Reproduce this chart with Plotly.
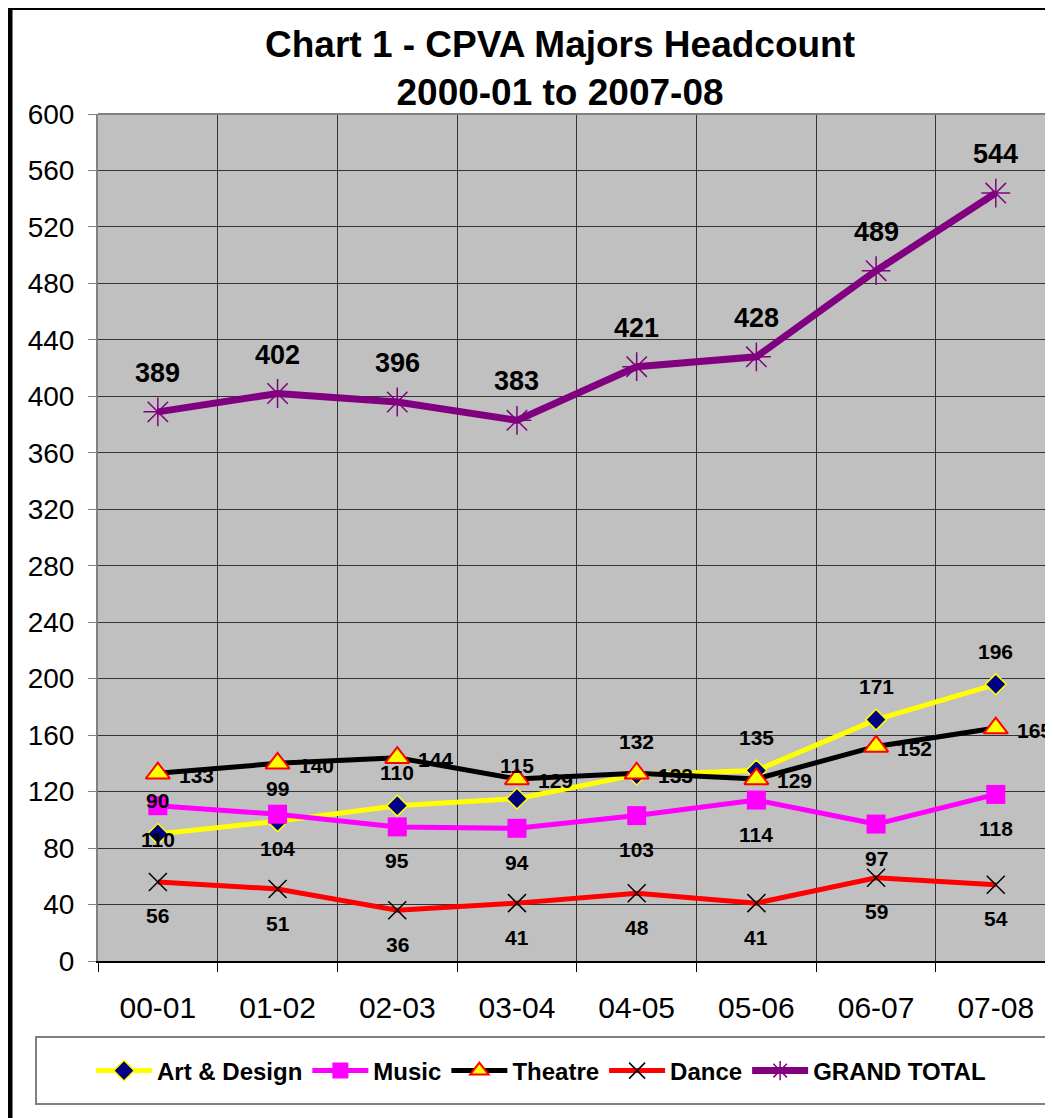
import plotly.graph_objects as go

categories = ["00-01", "01-02", "02-03", "03-04", "04-05", "05-06", "06-07", "07-08"]
art_design = [90, 99, 110, 115, 132, 135, 171, 196]
music = [110, 104, 95, 94, 103, 114, 97, 118]
theatre = [133, 140, 144, 129, 133, 129, 152, 165]
dance = [56, 51, 36, 41, 48, 41, 59, 54]
grand_total = [389, 402, 396, 383, 421, 428, 489, 544]
y_ticks = list(range(0, 601, 40))

FONT = "Liberation Sans, Arial, sans-serif"
xs = list(range(len(categories)))

W, H = 1045, 1110
L, T, B = 90, 106, 157
PW, PH = W - L, H - T - B  # plot area size in px


def px_x(fx):
    return (fx - L) / PW


def px_y(fy):
    return 1 - (fy - T) / PH


fig = go.Figure()

fig.add_trace(go.Scatter(
    x=xs, y=art_design, name="Art & Design", mode="lines+markers",
    line=dict(color="#FFFF00", width=5),
    marker=dict(symbol="diamond", size=16, color="#000080", line=dict(color="#FFFF00", width=1.5)),
))
fig.add_trace(go.Scatter(
    x=xs, y=music, name="Music", mode="lines+markers",
    line=dict(color="#FF00FF", width=5),
    marker=dict(symbol="square", size=19, color="#FF00FF"),
))
fig.add_trace(go.Scatter(
    x=xs, y=theatre, name="Theatre", mode="lines+markers",
    line=dict(color="#000000", width=5),
    marker=dict(symbol="triangle-up", size=21, color="#FFFF00", line=dict(color="#FF0000", width=2)),
))
fig.add_trace(go.Scatter(
    x=xs, y=dance, name="Dance", mode="lines+markers",
    line=dict(color="#FF0000", width=5),
    marker=dict(symbol="x-thin-open", size=18, color="#000000", line=dict(color="#000000", width=1.5)),
))
fig.add_trace(go.Scatter(
    x=xs, y=grand_total, name="GRAND TOTAL", mode="lines+markers",
    line=dict(color="#800080", width=7),
    marker=dict(symbol="asterisk-open", size=24, color="#800080", line=dict(color="#800080", width=1.5)),
))

label_font = dict(family=FONT, size=21, color="#000000", weight="bold")
for i, v in enumerate(art_design):
    fig.add_annotation(x=i, y=v, text=str(v), showarrow=False, yshift=33, font=label_font)
for i, v in enumerate(music):
    fig.add_annotation(x=i, y=v, text=str(v), showarrow=False, yshift=-34, font=label_font)
for i, v in enumerate(theatre):
    fig.add_annotation(x=i, y=v, text=str(v), showarrow=False, xshift=19, yshift=-2,
                       xanchor="left", font=label_font)
for i, v in enumerate(dance):
    fig.add_annotation(x=i, y=v, text=str(v), showarrow=False, yshift=-34, font=label_font)
for i, v in enumerate(grand_total):
    fig.add_annotation(x=i, y=v, text=str(v), showarrow=False, yshift=39,
                       font=dict(family=FONT, size=27, color="#000000", weight="bold"))

# title
fig.add_annotation(xref="paper", yref="paper", x=px_x(552), y=px_y(60),
                   text="Chart 1 - CPVA Majors Headcount<br>2000-01 to 2007-08",
                   showarrow=False, xanchor="center", yanchor="middle",
                   font=dict(family=FONT, size=37, color="#000000", weight="bold"))

# legend box
fig.add_shape(type="rect", xref="paper", yref="paper",
              x0=px_x(28), x1=px_x(1039), y0=px_y(1096), y1=px_y(1029),
              line=dict(color="#808080", width=2), fillcolor="white", layer="below")
# outer chart border
fig.add_shape(type="rect", xref="paper", yref="paper",
              x0=px_x(1.5), x1=1.2, y0=-0.3, y1=px_y(-1),
              line=dict(color="#000000", width=6), fillcolor="rgba(0,0,0,0)")
# top border of plot area
fig.add_shape(type="line", xref="paper", yref="paper", x0=0, x1=1, y0=1, y1=1,
              line=dict(color="#808080", width=2))

fig.update_layout(
    width=W, height=H,
    margin=dict(l=L, r=0, t=T, b=B),
    paper_bgcolor="white",
    plot_bgcolor="#C0C0C0",
    font=dict(family=FONT, color="#000000"),
    showlegend=True,
    legend=dict(orientation="h", x=px_x(533), xanchor="center",
                y=px_y(1063), yanchor="middle",
                bgcolor="rgba(0,0,0,0)", borderwidth=0,
                font=dict(family=FONT, size=24, color="#000000", weight="bold"),
                itemwidth=56),
)

fig.update_xaxes(
    range=[-0.5, 7.478],
    tickmode="array", tickvals=xs, ticktext=categories,
    ticks="", showgrid=False, zeroline=False,
    showline=True, linecolor="#000000", linewidth=2,
    tickfont=dict(family=FONT, size=30, color="#000000"),
    ticklabelstandoff=19,
    minor=dict(tickmode="array", tickvals=[i - 0.5 for i in range(len(categories) + 1)],
               showgrid=True, gridcolor="#333333", gridwidth=1,
               ticks="outside", ticklen=9, tickcolor="#000000", tickwidth=1),
)
fig.update_yaxes(
    range=[0, 600],
    tickmode="array", tickvals=y_ticks,
    ticks="outside", ticklen=8, tickcolor="#808080", tickwidth=1,
    showgrid=True, gridcolor="#333333", gridwidth=1,
    zeroline=False,
    showline=True, linecolor="#808080", linewidth=2,
    tickfont=dict(family=FONT, size=28, color="#000000"),
    ticklabelstandoff=8,
)

fig.write_html("out.html")
